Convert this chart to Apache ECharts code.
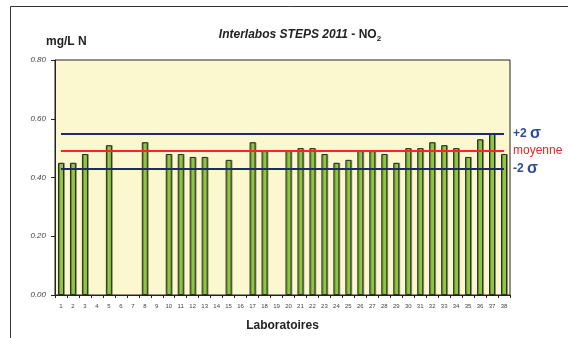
<!DOCTYPE html>
<html><head><meta charset="utf-8">
<script src="https://cdn.jsdelivr.net/npm/echarts@6/dist/echarts.min.js"></script>
<style>html,body{margin:0;padding:0;background:#fff}#c{width:568px;height:338px}</style>
</head><body><div id="c"></div>
<script>
const labs = ['1','2','3','4','5','6','7','8','9','10','11','12','13','14','15','16','17','18','19','20','21','22','23','24','25','26','27','28','29','30','31','32','33','34','35','36','37','38'];
const values = [0.45,0.45,0.48,null,0.51,null,null,0.52,null,0.48,0.48,0.47,0.47,null,0.46,null,0.52,0.49,null,0.49,0.50,0.50,0.48,0.45,0.46,0.49,0.49,0.48,0.45,0.50,0.50,0.52,0.51,0.50,0.47,0.53,0.55,0.48];
const yTicks = [0, 0.2, 0.4, 0.6, 0.8];
const meanValue = 0.49;
const plus2s = 0.55;
const minus2s = 0.43;

const FONT = "'Liberation Sans Narrow','Liberation Sans',Arial,sans-serif";
const chart = echarts.init(document.getElementById('c'));
const first = labs[0], last = labs[labs.length-1];
function seg(v, label, color, rich){
  return [{coord:[first, v], lineStyle:{color:color, width:2, type:'solid'},
           label:{show:true, position:'end', distance:9, formatter:label, color:color, fontFamily:FONT, rich:rich}},
          {coord:[last, v]}];
}
const sigRich = {
  a:{fontSize:12, fontWeight:'bold', color:'#2E4A9E', fontFamily:FONT},
  s:{fontSize:16, fontWeight:'bold', color:'#2E4A9E', fontFamily:'Liberation Sans,sans-serif'}
};
const meanRich = { m:{fontSize:12, color:'#E8232A', fontFamily:FONT} };

chart.setOption({
  animation:false,
  backgroundColor:'#fff',
  title:[{
    text:'{i|Interlabos STEPS 2011}{n| - NO}{sub|2}',
    left:295, top:22, textAlign:'center',
    textStyle:{rich:{
      i:{fontSize:12, fontStyle:'italic', fontWeight:'bold', color:'#222', fontFamily:FONT},
      n:{fontSize:12, fontWeight:'bold', color:'#222', fontFamily:FONT},
      sub:{fontSize:8, fontWeight:'bold', color:'#222', fontFamily:FONT, padding:[8,0,0,0]}
    }}
  },{
    text:'mg/L N', left:41, top:31,
    textStyle:{fontSize:12, fontWeight:'bold', color:'#222', fontFamily:FONT}
  }],
  graphic:[{type:'rect', shape:{x:10.5, y:6.5, width:600, height:400}, style:{fill:'none', stroke:'#333', lineWidth:1}, silent:true, z:-1}],
  grid:{left:55, right:58, top:60, bottom:43, show:true, backgroundColor:'#FBF7CE', borderColor:'#222', borderWidth:1},
  xAxis:{type:'category', data:labs, boundaryGap:true,
    axisLine:{lineStyle:{color:'#222', width:1}},
    axisTick:{show:true, alignWithLabel:false, length:3, lineStyle:{color:'#222'}},
    axisLabel:{interval:0, fontSize:6, color:'#444', margin:8, fontFamily:FONT},
    name:'Laboratoires', nameLocation:'middle', nameGap:25,
    nameTextStyle:{fontSize:12, fontWeight:'bold', color:'#222', fontFamily:FONT},
    splitLine:{show:false}},
  yAxis:{type:'value', min:yTicks[0], max:yTicks[yTicks.length-1], interval:0.2,
    axisLine:{show:true, lineStyle:{color:'#222', width:1}},
    axisTick:{show:true, length:4, lineStyle:{color:'#222'}},
    axisLabel:{formatter:v=>v.toFixed(2), fontSize:8, fontStyle:'italic', color:'#444', margin:9, fontFamily:FONT},
    splitLine:{show:false}},
  series:[{
    type:'bar', data:values, barWidth:6,
    itemStyle:{color:'#8DC63F', borderColor:'#2A2A2A', borderWidth:1,
      shadowColor:'rgba(0,0,0,0.3)', shadowOffsetX:1, shadowOffsetY:0, shadowBlur:0},
    markLine:{symbol:'none', silent:true, animation:false,
      data:[
        seg(plus2s, '{a|+2 }{s|σ}', '#1F2A6E', sigRich),
        seg(meanValue, '{m|moyenne}', '#FF2424', meanRich),
        seg(minus2s, '{a|-2 }{s|σ}', '#1F2A6E', sigRich)
      ]}
  }]
});
</script></body></html>
